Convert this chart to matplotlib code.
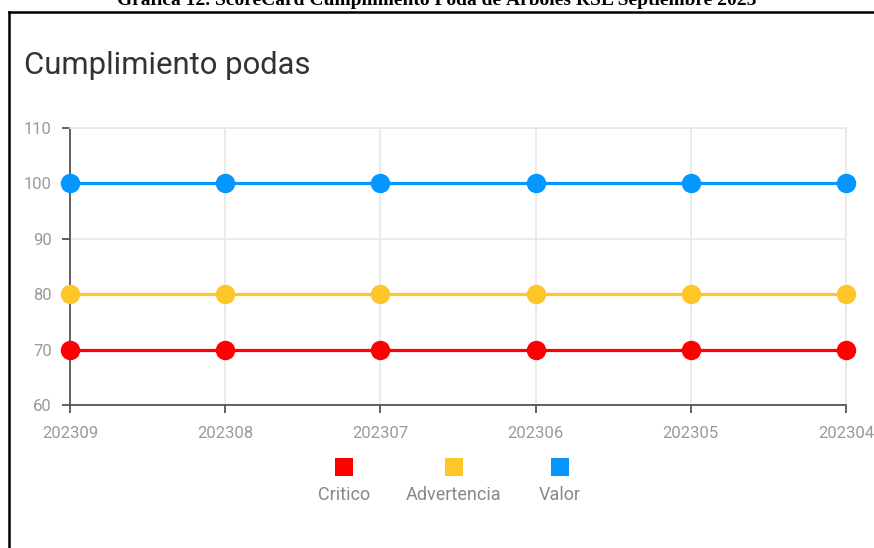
import matplotlib
matplotlib.use("Agg")
import matplotlib.pyplot as plt
from matplotlib.patches import Rectangle
from matplotlib.lines import Line2D

periods = ["202309", "202308", "202307", "202306", "202305", "202304"]
series_names = ["Critico", "Advertencia", "Valor"]
critico = [70, 70, 70, 70, 70, 70]
advertencia = [80, 80, 80, 80, 80, 80]
valor = [100, 100, 100, 100, 100, 100]
y_ticks = [60, 70, 80, 90, 100, 110]
colors = ["#ff0000", "#ffc629", "#0596ff"]

plt.rcParams['font.family'] = ['Roboto', 'DejaVu Sans']

W, H = 874, 548
fig = plt.figure(figsize=(W / 100, H / 100), dpi=100)
ax = fig.add_axes([70 / W, 1 - 405 / H, (846 - 70) / W, (405 - 128) / H])

x = list(range(len(periods)))
for vals, c in zip([critico, advertencia, valor], colors):
    ax.plot(x, vals, color=c, lw=2.3, marker='o', ms=13, mec=c, mfc=c, zorder=3, clip_on=False)

ax.set_xlim(0, len(periods) - 1)
ax.set_ylim(min(y_ticks), max(y_ticks))
ax.set_xticks(x)
ax.set_xticklabels(periods)
ax.set_yticks(y_ticks)
ax.grid(True, color="#e8e8e8", lw=1.2, zorder=0)
for s in ["top", "right"]:
    ax.spines[s].set_color("#e8e8e8")
    ax.spines[s].set_linewidth(1.2)
for s in ["left", "bottom"]:
    ax.spines[s].set_color("#555555")
    ax.spines[s].set_linewidth(1.3)
ax.tick_params(axis='both', length=6, width=1.3, color="#555555", labelcolor="#9a9a9a")
ax.tick_params(axis='x', labelsize=12, pad=9)
ax.tick_params(axis='y', labelsize=12, pad=7)

# Title
fig.text(24 / W, 1 - 66 / H, "Cumplimiento podas", fontsize=22.3, color="#333333", ha='left', va='center')

# Legend (squares above labels)
leg_x = [344, 454, 560]
for name, c, lx in zip(series_names, colors, leg_x):
    fig.add_artist(Rectangle(((lx - 9) / W, 1 - (467 + 9) / H), 18 / W, 18 / H,
                             transform=fig.transFigure, facecolor=c, edgecolor='none'))
    fig.text(lx / W, 1 - 495 / H, name, fontsize=13, color="#888888", ha='center', va='center')

# Frame lines of the screenshot
fig.add_artist(Line2D([9 / W, 1], [1 - 12 / H, 1 - 12 / H], transform=fig.transFigure, color='black', lw=1.8))
fig.add_artist(Line2D([9 / W, 9 / W], [0, 1 - 12 / H], transform=fig.transFigure, color='black', lw=1.8))

# Cut-off caption at very top
fig.text(0.5, 1 - 5 / H, "Gráfica 12. ScoreCard Cumplimiento Poda de Árboles RSL Septiembre 2023",
         fontsize=14, fontweight='bold', family='Liberation Serif', ha='center', va='baseline', color='black')

fig.savefig("out.png", dpi=100)
